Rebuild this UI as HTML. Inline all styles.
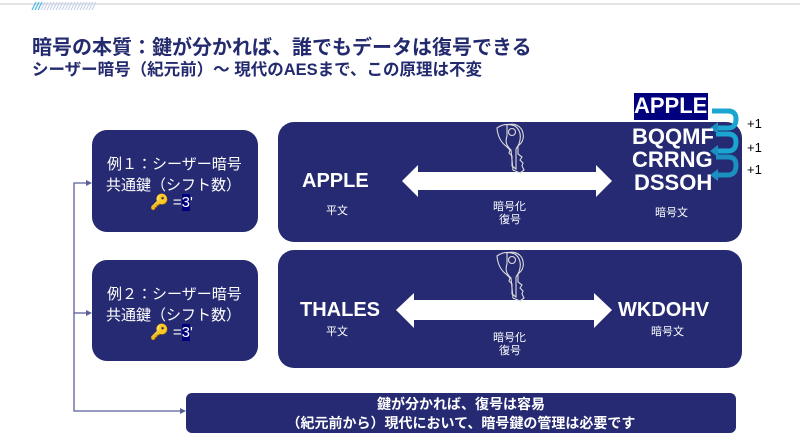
<!DOCTYPE html>
<html><head><meta charset="utf-8"><style>
body{margin:0;width:800px;height:440px;background:#fff;position:relative;overflow:hidden;font-family:"Liberation Sans","Noto Sans CJK JP",sans-serif;}
.t{position:absolute;white-space:nowrap;color:#fff;}
.n{color:#232a6e;font-weight:bold;}
</style></head><body>
<div style="position:absolute;left:0;top:3px;width:800px;height:2px;background:#e4e4e4"></div>
<svg style="position:absolute;left:0;top:0" width="800" height="440">
<g stroke="#c9d3e8" stroke-width="1.2">
<line x1="32" y1="10" x2="36" y2="2" stroke="#4ab8e0"/><line x1="35" y1="10" x2="39" y2="2" stroke="#4ab8e0"/><line x1="38" y1="10" x2="42" y2="2" stroke="#4ab8e0"/>
<line x1="41" y1="10" x2="45" y2="2"/><line x1="44" y1="10" x2="48" y2="2"/><line x1="47" y1="10" x2="51" y2="2"/><line x1="50" y1="10" x2="54" y2="2"/><line x1="53" y1="10" x2="57" y2="2"/><line x1="56" y1="10" x2="60" y2="2"/><line x1="59" y1="10" x2="63" y2="2"/><line x1="62" y1="10" x2="66" y2="2"/><line x1="65" y1="10" x2="69" y2="2"/><line x1="68" y1="10" x2="72" y2="2"/><line x1="71" y1="10" x2="75" y2="2"/><line x1="74" y1="10" x2="78" y2="2"/><line x1="77" y1="10" x2="81" y2="2"/><line x1="80" y1="10" x2="84" y2="2"/><line x1="83" y1="10" x2="87" y2="2"/><line x1="86" y1="10" x2="90" y2="2"/><line x1="89" y1="10" x2="93" y2="2"/><line x1="92" y1="10" x2="96" y2="2"/>
</g>
<rect x="92" y="130" width="166" height="102" rx="15" fill="#252a72"/>
<rect x="92" y="260" width="166" height="101" rx="15" fill="#252a72"/>
<rect x="278" y="122" width="464" height="120" rx="16" fill="#252a72"/>
<rect x="278" y="250" width="464" height="118" rx="16" fill="#252a72"/>
<rect x="186" y="393" width="550" height="40" rx="6" fill="#252a72"/>
<g stroke="#5a5f9a" stroke-width="1.3" fill="none"><polyline points="88,183 74,183 74,411 182,411"/><line x1="74" y1="313" x2="88" y2="313"/></g>
<g fill="#5a5f9a"><polygon points="92,183 86,180 86,186"/><polygon points="92,313 86,310 86,316"/><polygon points="186,411 180,408 180,414"/></g>
<g fill="#fff">
<polygon points="402,181 418,165 418,172 596,172 596,165 612,181 596,197 596,190 418,190 418,197"/>
<polygon points="396,310 414,293 414,300 594,300 594,293 612,310 594,328 594,320 414,320 414,328"/>
</g>
<g fill="none" stroke="#ddd" stroke-width="1.1">
<path d="M497,128 q8,-6 18,-2 q8,6 4,18 l-3,5 l0,20 l-4,-3 l0,-10 l-3,-3 l1,-3 l-4,-4 q-8,-6 -9,-18z"/>
<path d="M507,125 q10,-3 15,5 q4,10 -4,16 l0,8 l4,3 l-2,3 l3,3 l-1,3 l2,4 l-4,3 l-7,-3 l-2,-20 q-7,-6 -4,-14z"/>
<circle cx="512" cy="132" r="3.5"/>
<g transform="translate(0,128)"><path d="M497,128 q8,-6 18,-2 q8,6 4,18 l-3,5 l0,20 l-4,-3 l0,-10 l-3,-3 l1,-3 l-4,-4 q-8,-6 -9,-18z"/>
<path d="M507,125 q10,-3 15,5 q4,10 -4,16 l0,8 l4,3 l-2,3 l3,3 l-1,3 l2,4 l-4,3 l-7,-3 l-2,-20 q-7,-6 -4,-14z"/>
<circle cx="512" cy="132" r="3.5"/></g>
</g>
<rect x="634" y="93" width="74" height="27" fill="#00007f"/>
<g fill="none" stroke-width="5">
<path d="M712,111 h16 q8,0 8,8 q0,9 -8,9 h-14" stroke="#1aa6d0"/>
<path d="M716,134 h12 q8,0 8,8 q0,9 -8,9 h-14" stroke="#1aa6d0"/>
<path d="M716,157 h12 q8,0 8,8 q0,10 -8,10 h-12" stroke="#1a8fc0"/>
</g>
<g fill="#1a8fc0"><polygon points="710,128 718,122 718,134"/><polygon points="710,151 718,145 718,157"/><polygon points="710,175 718,169 718,181"/></g>
</svg>
<div class="t n" style="left:32px;top:31px;font-size:20px">暗号の本質：鍵が分かれば、誰でもデータは復号できる</div>
<div class="t n" style="left:32px;top:56px;font-size:16.5px">シーザー暗号（紀元前）～ 現代のAESまで、この原理は不変</div>

<div class="t" style="left:107px;top:153px;font-size:15px">例１：シーザー暗号</div>
<div class="t" style="left:106px;top:174px;font-size:15px">共通鍵（シフト数）</div>
<div class="t" style="left:150px;top:193px;font-size:15px">🔑 =<span style="background:#00007f">3</span>'</div>
<div class="t" style="left:107px;top:283px;font-size:15px">例２：シーザー暗号</div>
<div class="t" style="left:106px;top:304px;font-size:15px">共通鍵（シフト数）</div>
<div class="t" style="left:150px;top:323px;font-size:15px">🔑 =<span style="background:#00007f">3</span>'</div>

<div class="t" style="left:302px;top:170px;font-size:20px;font-weight:bold">APPLE</div>
<div class="t" style="left:326px;top:202px;font-size:11px">平文</div>
<div class="t" style="left:493px;top:198px;font-size:11px">暗号化</div>
<div class="t" style="left:499px;top:211px;font-size:11px">復号</div>
<div class="t" style="left:634px;top:93px;font-size:22px;font-weight:bold">APPLE</div>
<div class="t" style="left:632px;top:124px;font-size:22px;font-weight:bold">BQQMF</div>
<div class="t" style="left:632px;top:147px;font-size:22px;font-weight:bold">CRRNG</div>
<div class="t" style="left:634px;top:170px;font-size:22px;font-weight:bold">DSSOH</div>
<div class="t" style="left:655px;top:204px;font-size:11px">暗号文</div>
<div class="t" style="left:747px;top:116px;font-size:13px;color:#000">+1</div>
<div class="t" style="left:747px;top:140px;font-size:13px;color:#000">+1</div>
<div class="t" style="left:747px;top:162px;font-size:13px;color:#000">+1</div>

<div class="t" style="left:300px;top:299px;font-size:20px;font-weight:bold">THALES</div>
<div class="t" style="left:326px;top:323px;font-size:11px">平文</div>
<div class="t" style="left:493px;top:329px;font-size:11px">暗号化</div>
<div class="t" style="left:499px;top:342px;font-size:11px">復号</div>
<div class="t" style="left:618px;top:299px;font-size:20px;font-weight:bold">WKDOHV</div>
<div class="t" style="left:651px;top:323px;font-size:11px">暗号文</div>

<div class="t" style="left:186px;width:550px;text-align:center;top:394px;font-size:14px;font-weight:bold">鍵が分かれば、復号は容易</div>
<div class="t" style="left:186px;width:550px;text-align:center;top:413px;font-size:14px;font-weight:bold">（紀元前から）現代において、暗号鍵の管理は必要です</div>
</body></html>
